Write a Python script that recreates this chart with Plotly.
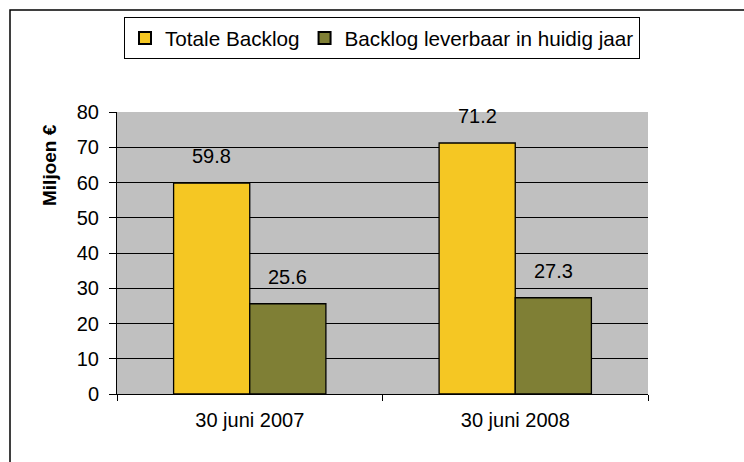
import plotly.graph_objects as go

categories = ["30 juni 2007", "30 juni 2008"]
totale_backlog = [59.8, 71.2]
backlog_leverbaar = [25.6, 27.3]
series_names = ["Totale Backlog", "Backlog leverbaar in huidig jaar"]
y_ticks = [0, 10, 20, 30, 40, 50, 60, 70, 80]

W, H = 744, 462
L, R, T, B = 117, 96, 112, 68
pw, ph = W - L - R, H - T - B

def px_x(p):
    return (p - L) / pw

def px_y(p):
    return (H - B - p) / ph

FONT = "Liberation Sans, Arial, sans-serif"
colors = ["#F5C723", "#7F7F35"]

fig = go.Figure()
for name, vals, col in zip(series_names, [totale_backlog, backlog_leverbaar], colors):
    fig.add_trace(go.Bar(
        x=categories, y=vals, name=name,
        marker=dict(color=col, line=dict(color="#000000", width=1.3)),
    ))

# value labels
annotations = []
bar_px = pw / len(categories) * (1 - 0.4264) / 2
for i, vals in enumerate([totale_backlog, backlog_leverbaar]):
    shift = (-0.5 + i) * bar_px
    for c, v in zip(categories, vals):
        annotations.append(dict(
            x=c, y=v, xref="x", yref="y", text=f"{v:.1f}", showarrow=False,
            xshift=shift, yshift=27, yanchor="middle",
            font=dict(family=FONT, size=20, color="#000000"),
        ))

annotations.append(dict(
    x=px_x(49), y=px_y(165), xref="paper", yref="paper", text="<b>Miljoen €</b>",
    textangle=-90, showarrow=False, xanchor="center", yanchor="middle",
    font=dict(family=FONT, size=19, color="#000000"),
))

fig.update_layout(
    width=W, height=H,
    margin=dict(l=L, r=R, t=T, b=B),
    paper_bgcolor="#FFFFFF",
    plot_bgcolor="#C0C0C0",
    barmode="group", bargap=0.4264, bargroupgap=0,
    font=dict(family=FONT, size=20, color="#000000"),
    showlegend=True,
    legend=dict(
        orientation="h", x=px_x(382), xanchor="center", y=px_y(17), yanchor="top",
        bordercolor="#000000", borderwidth=1, bgcolor="#FFFFFF",
        font=dict(family=FONT, size=20.7, color="#000000"),
        itemsizing="constant", traceorder="normal",
        itemwidth=30,
    ),
    annotations=annotations,
    shapes=[dict(
        type="rect", xref="paper", yref="paper",
        x0=px_x(10), x1=px_x(760), y0=px_y(480), y1=px_y(10),
        line=dict(color="#000000", width=1.5), fillcolor="rgba(0,0,0,0)", layer="below",
    )],
    xaxis=dict(
        showgrid=False, showline=True, linecolor="#000000", linewidth=1,
        ticks="outside", tickson="boundaries", ticklen=6, tickcolor="#000000",
        tickfont=dict(family=FONT, size=20, color="#000000"),
        ticklabelstandoff=8,
    ),
    yaxis=dict(
        range=[0, 80], tickvals=y_ticks,
        showgrid=True, gridcolor="#000000", gridwidth=1,
        showline=True, linecolor="#000000", linewidth=1,
        ticks="outside", ticklen=7, tickcolor="#000000",
        tickfont=dict(family=FONT, size=20, color="#000000"),
        zeroline=False, ticklabelstandoff=6,
    ),
)

fig.write_html("out.html", config={"displayModeBar": False},
               post_script="document.body.style.margin='0';")
